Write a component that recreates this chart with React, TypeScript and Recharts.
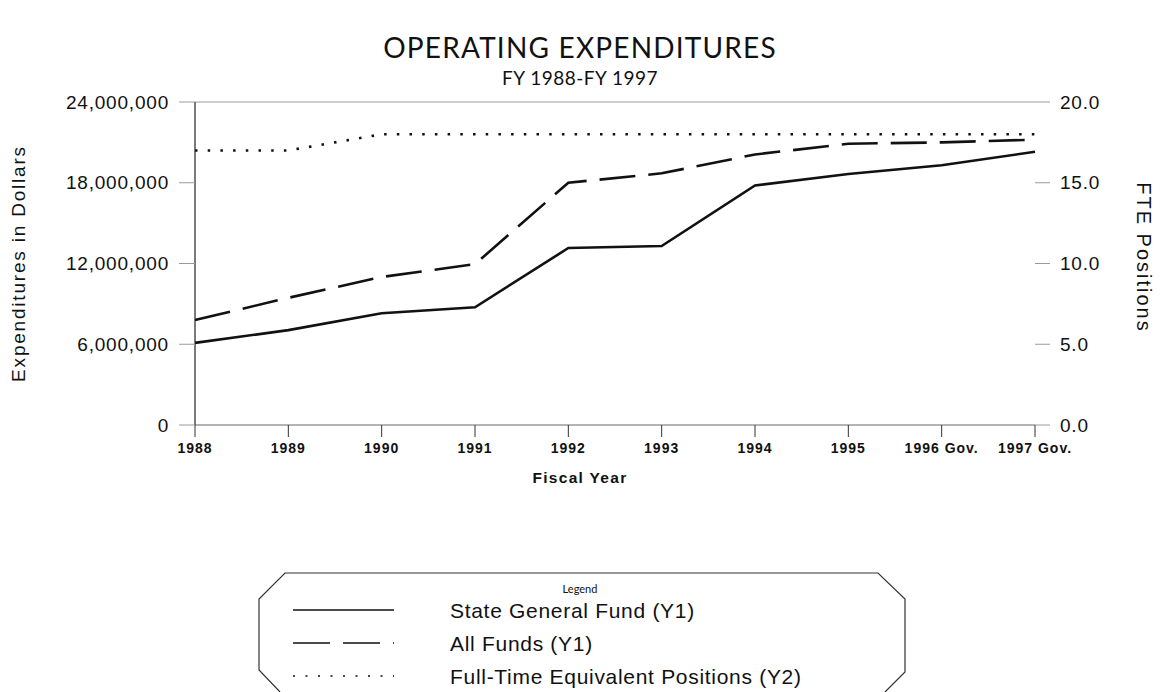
import React from 'react';
import { LineChart, Line, XAxis, YAxis, CartesianGrid } from 'recharts';

const years = ['1988', '1989', '1990', '1991', '1992', '1993', '1994', '1995', '1996 Gov.', '1997 Gov.'];
const stateGeneralFund = [6100000, 7050000, 8300000, 8750000, 13150000, 13300000, 17800000, 18650000, 19300000, 20300000];
const allFunds = [7800000, 9450000, 11000000, 11950000, 18000000, 18700000, 20100000, 20900000, 21000000, 21200000];
const ftePositions = [17.0, 17.0, 18.0, 18.0, 18.0, 18.0, 18.0, 18.0, 18.0, 18.0];

const leftTicks = [0, 6000000, 12000000, 18000000, 24000000];
const rightTicks = [0, 5, 10, 15, 20];

const seriesLegend = [
  { key: 'sgf', name: 'State General Fund (Y1)', dash: undefined as string | undefined },
  { key: 'all', name: 'All Funds (Y1)', dash: '37 13' },
  { key: 'fte', name: 'Full-Time Equivalent Positions (Y2)', dash: '2 10.5' },
];

const data = years.map((y, i) => ({
  year: y,
  sgf: stateGeneralFund[i],
  all: allFunds[i],
  fte: ftePositions[i],
}));

const FONT = '"Liberation Sans", Arial, sans-serif';

const XTick = (props: any) => {
  const { x, y, payload } = props;
  return (
    <text x={x} y={y} dy={12} textAnchor="middle" fontFamily={FONT} fontWeight="bold" fontSize={14} letterSpacing={1} fill="#111">
      {payload.value}
    </text>
  );
};

const LeftTitle = (props: any) => {
  const vb = props.viewBox || {};
  const cx = 18;
  const cy = (vb.y || 102) + (vb.height || 323) / 2;
  return (
    <text x={cx} y={cy} transform={`rotate(-90 ${cx} ${cy})`} textAnchor="middle" dominantBaseline="central" fontFamily={FONT} fontSize={19} letterSpacing={1.8} fill="#111">
      Expenditures in Dollars
    </text>
  );
};

const RightTitle = (props: any) => {
  const vb = props.viewBox || {};
  const cx = 1144;
  const cy = (vb.y || 102) + (vb.height || 323) / 2 - 6;
  return (
    <text x={cx} y={cy} transform={`rotate(90 ${cx} ${cy})`} textAnchor="middle" dominantBaseline="central" fontFamily={FONT} fontSize={20} letterSpacing={2} fill="#111">
      FTE Positions
    </text>
  );
};

const XTitle = () => (
  <text x={580} y={483} textAnchor="middle" fontFamily={FONT} fontWeight="bold" fontSize={15.5} letterSpacing={1.3} fill="#111">
    Fiscal Year
  </text>
);

export default function App() {
  const rowY = [610, 643, 676];
  return (
    <div style={{ position: 'absolute', left: 0, top: 0, width: 1160, height: 692, background: '#fff' }}>
      <LineChart width={1160} height={692} data={data} margin={{ top: 102, right: 25, bottom: 207, left: 95 }}>
        <CartesianGrid vertical={false} stroke="#9a9a9a" strokeWidth={1} />
        <XAxis
          dataKey="year"
          height={60}
          tick={<XTick />}
          tickSize={12}
          tickMargin={4}
          tickLine={{ stroke: '#333' }}
          axisLine={{ stroke: '#9a9a9a' }}
          interval={0}
          label={<XTitle />}
        />
        <YAxis
          yAxisId="left"
          width={100}
          domain={[0, 24000000]}
          ticks={leftTicks}
          tickFormatter={(v: number) => v.toLocaleString('en-US')}
          tick={{ fontFamily: FONT, fontSize: 19, fill: '#111', letterSpacing: 0.8 }}
          tickSize={16}
          tickMargin={10}
          tickLine={{ stroke: '#9a9a9a' }}
          axisLine={{ stroke: '#222', strokeWidth: 1.2 }}
          label={<LeftTitle />}
        />
        <YAxis
          yAxisId="right"
          orientation="right"
          width={100}
          domain={[0, 20]}
          ticks={rightTicks}
          tickFormatter={(v: number) => v.toFixed(1)}
          tick={{ fontFamily: FONT, fontSize: 19, fill: '#111', letterSpacing: 0.8 }}
          tickSize={15}
          tickMargin={10}
          tickLine={{ stroke: '#9a9a9a' }}
          axisLine={false}
          label={<RightTitle />}
        />
        <Line yAxisId="left" dataKey="sgf" name="State General Fund (Y1)" stroke="#111" strokeWidth={2.6} dot={false} isAnimationActive={false} type="linear" />
        <Line yAxisId="left" dataKey="all" name="All Funds (Y1)" stroke="#111" strokeWidth={2.6} strokeDasharray="36 13" dot={false} isAnimationActive={false} type="linear" />
        <Line yAxisId="right" dataKey="fte" name="Full-Time Equivalent Positions (Y2)" stroke="#111" strokeWidth={2.6} strokeDasharray="2.5 10.2" dot={false} isAnimationActive={false} type="linear" />
      </LineChart>
      <svg width={1160} height={692} style={{ position: 'absolute', left: 0, top: 0, pointerEvents: 'none' }}>
        <text x={580} y={58} textAnchor="middle" fontFamily="Lato, sans-serif" fontSize={28} letterSpacing={1.2} fill="#111">
          OPERATING EXPENDITURES
        </text>
        <text x={580} y={85} textAnchor="middle" fontFamily="Lato, sans-serif" fontSize={19} letterSpacing={0.5} fill="#111">
          FY 1988-FY 1997
        </text>
        <path d="M 280 692 L 259 670 L 259 599 L 285 573 L 878 573 L 905 599 L 905 672 L 885 692" fill="none" stroke="#333" strokeWidth={1.2} />
        <text x={580} y={593} textAnchor="middle" fontFamily="Lato, sans-serif" fontSize={11} fill="#111">
          Legend
        </text>
        {seriesLegend.map((s, i) => {
          const cy = rowY[i];
          return (
            <g key={s.key}>
              <line x1={293} x2={394} y1={cy} y2={cy} stroke="#111" strokeWidth={1.6} strokeDasharray={s.dash} />
              <text x={450} y={cy + 7.5} fontFamily={FONT} fontSize={21} letterSpacing={0.7} fill="#111">
                {s.name}
              </text>
            </g>
          );
        })}
      </svg>
    </div>
  );
}
